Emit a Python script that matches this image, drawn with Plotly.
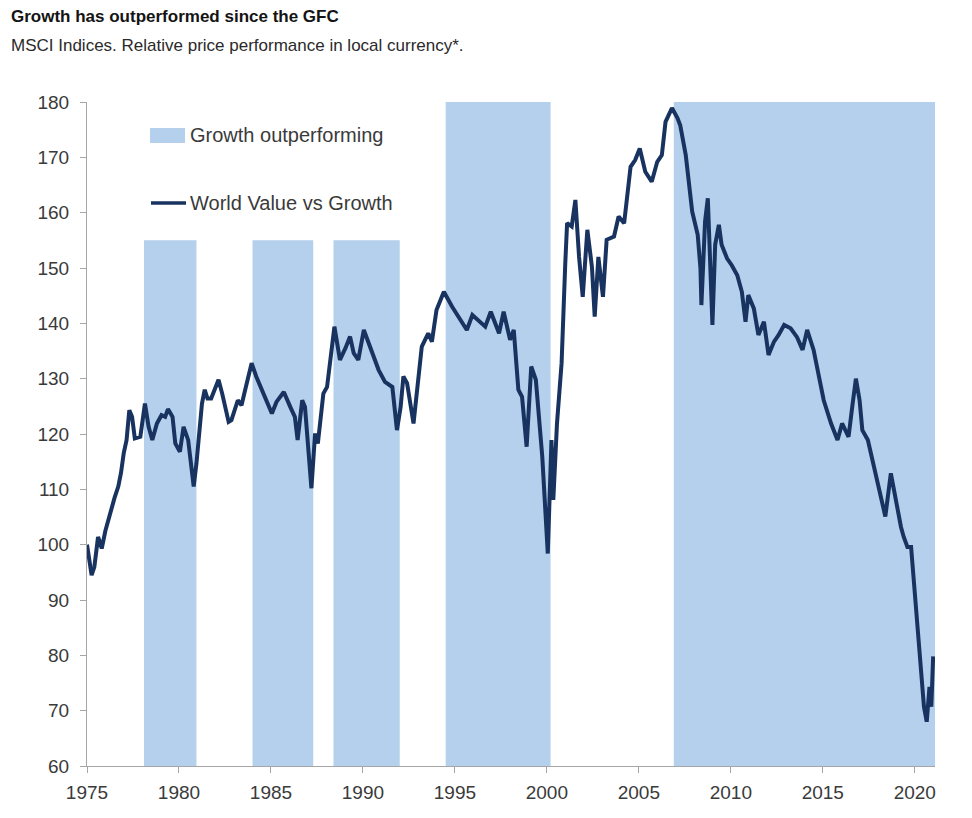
import plotly.graph_objects as go

# ---------------- data ----------------
years = [
    1975.0, 1975.1, 1975.25, 1975.4, 1975.6, 1975.7, 1975.8, 1976.0, 1976.25, 1976.5,
    1976.7, 1976.85, 1977.0, 1977.15, 1977.3, 1977.45, 1977.6, 1977.9, 1978.15, 1978.35,
    1978.55, 1978.8, 1979.05, 1979.25, 1979.4, 1979.65, 1979.8, 1980.05, 1980.25, 1980.5,
    1980.8, 1980.95, 1981.25, 1981.4, 1981.55, 1981.75, 1982.15, 1982.35, 1982.7, 1982.85,
    1983.2, 1983.4, 1983.6, 1983.95, 1984.2, 1984.5, 1984.8, 1985.05, 1985.3, 1985.7,
    1986.05, 1986.3, 1986.45, 1986.7, 1986.85, 1987.2, 1987.4, 1987.55, 1987.85, 1988.05,
    1988.45, 1988.75, 1989.05, 1989.3, 1989.5, 1989.75, 1990.05, 1990.3, 1990.6, 1990.85,
    1991.2, 1991.6, 1991.85, 1992.05, 1992.2, 1992.4, 1992.75, 1993.2, 1993.55, 1993.75,
    1994.0, 1994.4, 1994.85, 1995.3, 1995.65, 1995.95, 1996.4, 1996.65, 1996.95, 1997.4,
    1997.65, 1998.0, 1998.2, 1998.45, 1998.65, 1998.9, 1999.15, 1999.4, 1999.75, 1999.9,
    2000.05, 2000.25, 2000.35, 2000.55, 2000.8, 2001.0, 2001.1, 2001.35, 2001.55, 2001.75,
    2001.95, 2002.2, 2002.45, 2002.6, 2002.8, 2003.05, 2003.25, 2003.65, 2003.9, 2004.2,
    2004.35, 2004.55, 2004.8, 2005.05, 2005.35, 2005.7, 2006.0, 2006.25, 2006.45, 2006.8,
    2007.1, 2007.25, 2007.55, 2007.75, 2007.9, 2008.2, 2008.35, 2008.4, 2008.6, 2008.75,
    2008.85, 2009.0, 2009.15, 2009.35, 2009.5, 2009.8, 2010.05, 2010.35, 2010.6, 2010.8,
    2010.95, 2011.25, 2011.5, 2011.8, 2012.05, 2012.35, 2012.6, 2012.9, 2013.25, 2013.6,
    2013.9, 2014.15, 2014.5, 2014.8, 2015.05, 2015.45, 2015.8, 2016.05, 2016.4, 2016.6,
    2016.8, 2017.0, 2017.15, 2017.45, 2017.7, 2018.05, 2018.4, 2018.7, 2018.95, 2019.25,
    2019.4, 2019.6, 2019.8, 2019.95, 2020.15, 2020.3, 2020.5, 2020.65, 2020.8, 2020.9,
    2021.0,
]
value_vs_growth = [
    100.0, 97.5, 94.5, 96.0, 101.4, 100.5, 99.3, 102.5, 105.7, 108.5,
    110.5, 113.0, 116.6, 118.9, 124.3, 123.1, 119.2, 119.5, 125.5, 121.3,
    118.9, 121.9, 123.4, 123.1, 124.5, 123.1, 118.3, 116.8, 121.3, 118.9,
    110.5, 114.7, 125.5, 128.0, 126.4, 126.4, 129.8, 127.3, 122.2, 122.5,
    126.1, 125.2, 128.0, 132.8, 130.4, 128.0, 125.5, 123.7, 125.8, 127.6,
    124.9, 123.1, 118.9, 126.1, 124.9, 110.2, 120.1, 118.3, 127.3, 128.5,
    139.4, 133.4, 135.5, 137.6, 134.6, 133.4, 138.8, 136.4, 134.0, 131.6,
    129.4, 128.5, 120.7, 124.9, 130.4, 129.2, 121.9, 135.8, 138.2, 136.7,
    142.4, 145.7, 143.0, 140.6, 138.8, 141.5, 140.0, 139.4, 142.1, 138.2,
    142.1, 137.0, 138.8, 128.0, 126.7, 117.7, 132.2, 129.8, 115.9, 106.3,
    98.4, 118.9, 108.1, 121.9, 132.8, 150.8, 158.1, 157.5, 162.3, 152.0,
    144.8, 156.9, 150.2, 141.2, 152.0, 144.8, 155.1, 155.7, 159.3, 158.1,
    162.9, 168.3, 169.5, 171.6, 167.4, 165.6, 169.2, 170.4, 176.4, 178.9,
    177.1, 175.8, 170.4, 163.8, 160.2, 156.0, 149.9, 143.3, 158.4, 162.6,
    151.1, 139.7, 154.2, 157.8, 154.2, 151.7, 150.5, 148.7, 145.7, 140.3,
    145.1, 142.7, 137.9, 140.3, 134.3, 136.7, 137.9, 139.7, 139.1, 137.5,
    135.2, 138.8, 135.2, 130.4, 126.1, 121.9, 118.9, 121.9, 119.5, 124.9,
    130.0, 126.1, 120.7, 118.9, 115.3, 110.5, 105.1, 112.9, 108.1, 103.2,
    101.4, 99.6, 99.6, 93.0, 84.0, 78.0, 70.7, 68.0, 74.3, 70.7,
    79.8,
]

# periods where growth outperformed (shaded)
band_start = [1978.1, 1984.0, 1988.4, 1994.5, 2006.9]
band_end = [1980.95, 1987.3, 1992.0, 2000.2, 2021.1]
band_top = [155, 155, 155, 180, 180]

y_ticks = list(range(60, 181, 10))
x_ticks = list(range(1975, 2021, 5))

title_text = "Growth has outperformed since the GFC"
subtitle_text = "MSCI Indices. Relative price performance in local currency*."
legend_band = "Growth outperforming"
legend_line = "World Value vs Growth"

# ---------------- style ----------------
W, H = 972, 818
ML, MR, MT, MB = 87, 37, 102, 52
PW, PH = W - ML - MR, H - MT - MB
BAND_COLOR = "#b4d0ec"
LINE_COLOR = "#18335f"
AXIS_COLOR = "#a6a6a6"
TEXT_COLOR = "#3a3a3a"
FONT = "Liberation Sans, Arial, sans-serif"


def px(xp):
    return (xp - ML) / PW


def py(yp):
    return (H - MB - yp) / PH


# band polygons built from the band lists
bx, by = [], []
for s, e, t in zip(band_start, band_end, band_top):
    bx += [s, e, e, s, s, None]
    by += [y_ticks[0], y_ticks[0], t, t, y_ticks[0], None]

fig = go.Figure()
fig.add_trace(go.Scatter(
    x=bx, y=by, mode="lines", fill="toself", fillcolor=BAND_COLOR,
    line=dict(width=0, color=BAND_COLOR), hoverinfo="skip",
    name=legend_band, showlegend=False,
))
fig.add_trace(go.Scatter(
    x=years, y=value_vs_growth, mode="lines",
    line=dict(color=LINE_COLOR, width=4),
    name=legend_line, showlegend=False,
))

shapes = [
    dict(type="rect", xref="paper", yref="paper",
         x0=px(150), x1=px(185), y0=py(143), y1=py(128),
         fillcolor=BAND_COLOR, line=dict(width=0)),
    dict(type="line", xref="paper", yref="paper",
         x0=px(151), x1=px(186), y0=py(203), y1=py(203),
         line=dict(color=LINE_COLOR, width=3.5)),
]

annotations = [
    dict(text="<b>" + title_text + "</b>", xref="paper", yref="paper",
         x=px(9), y=py(17), xanchor="left", yanchor="middle", showarrow=False,
         font=dict(family=FONT, size=17, color="#141414")),
    dict(text=subtitle_text, xref="paper", yref="paper",
         x=px(9), y=py(45), xanchor="left", yanchor="middle", showarrow=False,
         font=dict(family=FONT, size=17, color="#2a2a2a")),
    dict(text=legend_band, xref="paper", yref="paper",
         x=px(188), y=py(135), xanchor="left", yanchor="middle", showarrow=False,
         font=dict(family=FONT, size=20, color=TEXT_COLOR)),
    dict(text=legend_line, xref="paper", yref="paper",
         x=px(188), y=py(203), xanchor="left", yanchor="middle", showarrow=False,
         font=dict(family=FONT, size=20, color=TEXT_COLOR)),
]

fig.update_layout(
    width=W, height=H, autosize=False,
    margin=dict(l=ML, r=MR, t=MT, b=MB, pad=0),
    paper_bgcolor="white", plot_bgcolor="white",
    showlegend=False,
    shapes=shapes, annotations=annotations,
    font=dict(family=FONT, color=TEXT_COLOR),
)
fig.update_xaxes(
    range=[1975, 2021.1], tickvals=x_ticks, ticktext=[str(v) for v in x_ticks],
    showgrid=False, zeroline=False, showline=True, linecolor=AXIS_COLOR, linewidth=1,
    ticks="outside", ticklen=6, tickcolor=AXIS_COLOR, ticklabelstandoff=3,
    tickfont=dict(family=FONT, size=19, color=TEXT_COLOR),
)
fig.update_yaxes(
    range=[60, 180], tickvals=y_ticks,
    showgrid=False, zeroline=False, showline=True, linecolor=AXIS_COLOR, linewidth=1,
    ticks="outside", ticklen=6, tickcolor=AXIS_COLOR, ticklabelstandoff=7,
    tickfont=dict(family=FONT, size=19, color=TEXT_COLOR),
)

fig.write_html("out.html")
